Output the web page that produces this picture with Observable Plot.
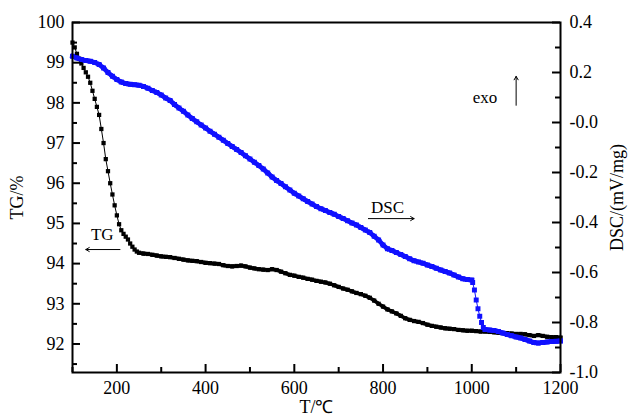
<!DOCTYPE html>
<html>
<head>
<meta charset="utf-8">
<script src="https://cdn.jsdelivr.net/npm/d3@7"></script>
<script src="https://cdn.jsdelivr.net/npm/@observablehq/plot@0.6"></script>
<style>
  html, body { margin: 0; padding: 0; background: white; }
</style>
</head>
<body>
<div id="chart"></div>
<script>
// TG series (black squares), T in °C, TG in %
const tgT = [100,105,110,115,120,125,130,135,140,145,150,155,160,165,170,175,180,185,190,195,200,205,210,215,220,225,230,235,240,245,250,
  260,270,280,290,300,310,320,330,340,350,360,370,380,390,400,410,420,430,440,450,460,470,480,490,500,510,520,530,540,550,560,570,580,590,600,
  610,620,630,640,650,660,670,680,690,700,710,720,730,740,750,760,770,780,790,800,810,820,830,840,850,860,870,880,890,900,
  910,920,930,940,950,960,970,980,990,1000,1010,1020,1030,1040,1050,1060,1070,1080,1090,1100,1110,1120,1130,1140,1150,1160,1170,1180,1190,1200];
const tgV = [99.5,99.38,99.22,99.1,98.98,98.87,98.76,98.65,98.5,98.3,98.1,97.9,97.7,97.35,97.0,96.6,96.3,96.0,95.72,95.45,95.2,94.98,94.83,94.74,94.67,94.6,94.5,94.42,94.35,94.3,94.27,
  94.25,94.24,94.22,94.2,94.18,94.17,94.16,94.14,94.12,94.1,94.08,94.07,94.06,94.04,94.02,94.01,94.0,93.99,93.96,93.94,93.93,93.94,93.95,93.93,93.9,93.88,93.86,93.85,93.84,93.86,93.84,93.8,93.76,93.72,93.7,
  93.67,93.65,93.62,93.6,93.57,93.55,93.53,93.5,93.46,93.42,93.38,93.35,93.31,93.27,93.24,93.2,93.15,93.08,93.0,92.93,92.86,92.81,92.76,92.7,92.64,92.6,92.57,92.55,92.52,92.48,
  92.45,92.43,92.41,92.39,92.38,92.37,92.35,92.34,92.33,92.33,92.32,92.31,92.31,92.3,92.29,92.28,92.27,92.27,92.26,92.25,92.25,92.24,92.22,92.2,92.22,92.2,92.18,92.17,92.17,92.16];

// DSC series (blue squares), T in °C, DSC in mV/mg
const dscT = [100,110,120,130,140,150,160,170,180,190,200,210,220,230,240,250,260,270,280,290,300,310,320,330,340,350,360,370,380,390,400,
  410,420,430,440,450,460,470,480,490,500,510,520,530,540,550,560,570,580,590,600,610,620,630,640,650,660,670,680,690,700,
  710,720,730,740,750,760,770,780,790,800,810,820,830,840,850,860,870,880,890,900,910,920,930,940,950,960,970,980,990,1000,
  1002,1006,1010,1014,1018,1022,1026,1030,1040,1050,1060,1070,1080,1090,1100,1110,1120,1130,1140,1150,1160,1170,1180,1190,1200];
const dscV = [0.265,0.258,0.252,0.248,0.245,0.24,0.232,0.218,0.2,0.185,0.172,0.162,0.156,0.153,0.151,0.149,0.144,0.137,0.128,0.12,0.11,0.098,0.088,0.072,0.058,0.045,0.03,0.016,0.003,-0.01,-0.022,
  -0.035,-0.047,-0.059,-0.071,-0.084,-0.096,-0.108,-0.12,-0.133,-0.146,-0.159,-0.172,-0.186,-0.202,-0.218,-0.232,-0.244,-0.257,-0.27,-0.283,-0.294,-0.305,-0.316,-0.326,-0.336,-0.345,-0.352,-0.36,-0.367,-0.376,
  -0.384,-0.393,-0.402,-0.41,-0.42,-0.43,-0.44,-0.455,-0.47,-0.49,-0.505,-0.512,-0.52,-0.528,-0.536,-0.545,-0.553,-0.558,-0.563,-0.57,-0.576,-0.583,-0.59,-0.596,-0.602,-0.61,-0.618,-0.625,-0.628,-0.63,
  -0.64,-0.67,-0.71,-0.745,-0.775,-0.8,-0.82,-0.828,-0.83,-0.832,-0.836,-0.842,-0.848,-0.853,-0.858,-0.862,-0.868,-0.874,-0.88,-0.882,-0.88,-0.878,-0.876,-0.875,-0.874];

// Axis ticks
const xMajor = [200,400,600,800,1000,1200];
const xMinor = [100,300,500,700,900,1100];
const tgMajor = [92,93,94,95,96,97,98,99,100];
const tgMinor = [91.5,92.5,93.5,94.5,95.5,96.5,97.5,98.5,99.5];
const dscMajor = [-1.0,-0.8,-0.6,-0.4,-0.2,0.0,0.2,0.4];
const dscMinor = [-0.9,-0.7,-0.5,-0.3,-0.1,0.1,0.3];

// Annotations (in T / TG units)
const labels = [
  {T: 167, v: 94.72, text: "TG"},
  {T: 810, v: 95.4, text: "DSC"},
  {T: 1030, v: 98.14, text: "exo"}
];
const arrows = [
  {T1: 207, v1: 94.35, T2: 130, v2: 94.35},
  {T1: 767, v1: 95.12, T2: 870, v2: 95.12},
  {T1: 1100, v1: 97.94, T2: 1100, v2: 98.66}
];

const W = 630, H = 416, ML = 72, MR = 70, MT = 22, MB = 44;
const PW = W - ML - MR, PH = H - MT - MB;
const xMin = 100, xMax = 1200;
const yMin = 91.29, yMax = 100, dMin = -1.0, dMax = 0.4;
const toY = d => yMin + (d - dMin) / (dMax - dMin) * (yMax - yMin);
const fromY = y => dMin + (y - yMin) / (yMax - yMin) * (dMax - dMin);
// tick lengths in pixels converted to data units
const kx = (xMax - xMin) / PW, ky = (yMax - yMin) / PH;
const MAJ = 8, MIN = 5;

const tg = tgT.map((T, i) => ({T, v: tgV[i]}));
const dsc = dscT.map((T, i) => ({T, v: toY(dscV[i])}));
// consecutive segments: dense stretches read as a solid thick line, sparse ones as thin connectors
const segs = arr => arr.slice(1).map((p, i) => ({T1: arr[i].T, v1: arr[i].v, T2: p.T, v2: p.v, dense: p.T - arr[i].T >= 10}));
const tgSeg = segs(tg), dscSeg = segs(dsc);
const BLUE = "#1010ff";
const FS = 18;
const tickStyle = {stroke: "black", strokeWidth: 2};

const chart = Plot.plot({
  width: W,
  height: H,
  marginLeft: ML,
  marginRight: MR,
  marginTop: MT,
  marginBottom: MB,
  style: {fontFamily: "'Liberation Serif', 'Times New Roman', serif", fontSize: FS + "px", background: "white", color: "black"},
  x: {domain: [xMin, xMax]},
  y: {domain: [yMin, yMax]},
  marks: [
    Plot.link(tgSeg, {x1: "T1", y1: "v1", x2: "T2", y2: "v2", stroke: "black", strokeWidth: d => d.dense ? 3.6 : 1, strokeLinecap: "square"}),
    Plot.dot(tg, {x: "T", y: "v", symbol: "square", r: 2.4, fill: "black", stroke: "none"}),
    Plot.link(dscSeg, {x1: "T1", y1: "v1", x2: "T2", y2: "v2", stroke: BLUE, strokeWidth: d => d.dense ? 4.6 : 1, strokeLinecap: "square"}),
    Plot.dot(dsc, {x: "T", y: "v", symbol: "square", r: 2.8, fill: BLUE, stroke: "none"}),
    // inward tick marks
    Plot.ruleX(xMajor, {x: d => d, y1: yMin, y2: yMin + MAJ * ky, ...tickStyle}),
    Plot.ruleX(xMinor, {x: d => d, y1: yMin, y2: yMin + MIN * ky, ...tickStyle}),
    Plot.ruleY(tgMajor, {y: d => d, x1: xMin, x2: xMin + MAJ * kx, ...tickStyle}),
    Plot.ruleY(tgMinor, {y: d => d, x1: xMin, x2: xMin + MIN * kx, ...tickStyle}),
    Plot.ruleY(dscMajor.map(toY), {y: d => d, x1: xMax - MAJ * kx, x2: xMax, ...tickStyle}),
    Plot.ruleY(dscMinor.map(toY), {y: d => d, x1: xMax - MIN * kx, x2: xMax, ...tickStyle}),
    // tick labels and axis titles
    Plot.axisX({ticks: xMajor, tickSize: 0, tickPadding: 9, tickFormat: d => String(d), fontSize: FS,
      label: "T/℃", labelAnchor: "center", labelOffset: 40, labelArrow: "none"}),
    Plot.axisY({ticks: tgMajor, tickSize: 0, tickPadding: 8, tickFormat: d => String(d), fontSize: FS,
      label: "TG/%", labelAnchor: "center", labelOffset: 62, labelArrow: "none"}),
    Plot.axisY({anchor: "right", ticks: dscMajor.map(toY), tickSize: 0, tickPadding: 9, fontSize: FS,
      tickFormat: y => fromY(y).toFixed(1),
      label: "DSC/(mV/mg)", labelAnchor: "center", labelOffset: 62, labelArrow: "none"}),
    Plot.frame({stroke: "black", strokeWidth: 2}),
    Plot.text(labels, {x: "T", y: "v", text: "text", fontSize: 17}),
    Plot.arrow(arrows, {x1: "T1", y1: "v1", x2: "T2", y2: "v2", stroke: "black", strokeWidth: 1, headLength: 6, bend: 0})
  ]
});
document.getElementById("chart").appendChild(chart);
</script>
</body>
</html>
